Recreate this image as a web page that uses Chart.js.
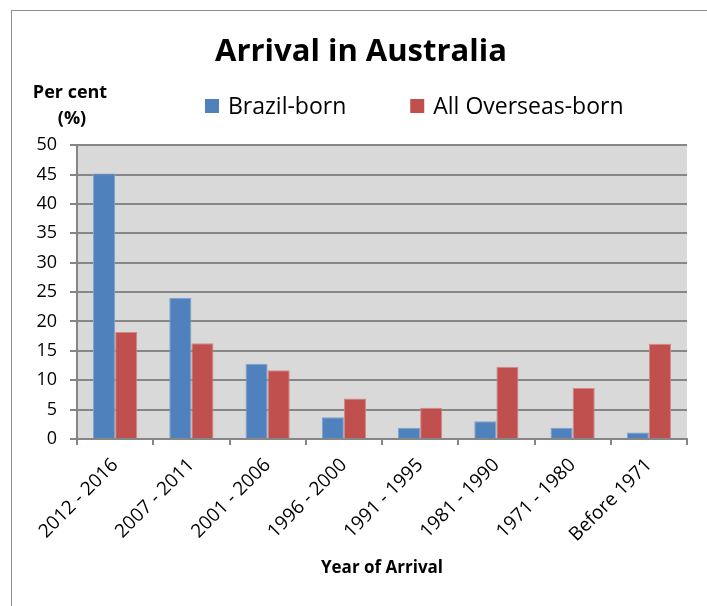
<!DOCTYPE html>
<html>
<head>
<meta charset="utf-8">
<script src="https://cdn.jsdelivr.net/npm/chart.js@4.4.1/dist/chart.umd.min.js"></script>
<style>
  body { margin: 0; background: #fff; }
  #wrap { position: relative; width: 707px; height: 606px; overflow: hidden; }
  #frame { position: absolute; left: 11px; top: 10px; width: 720px; height: 620px; border: 1px solid #8c8c8c; }
  canvas { position: absolute; left: 0; top: 0; }
</style>
</head>
<body>
<div id="wrap">
  <div id="frame"></div>
  <canvas id="chart" width="707" height="606"></canvas>
</div>
<script>
const periods = ['2012 - 2016', '2007 - 2011', '2001 - 2006', '1996 - 2000', '1991 - 1995', '1981 - 1990', '1971 - 1980', 'Before 1971'];
const brazilBorn = [45.2, 24.0, 12.8, 3.7, 1.9, 3.0, 1.9, 1.1];
const overseasBorn = [18.2, 16.3, 11.7, 6.9, 5.3, 12.3, 8.7, 16.2];
const yTicks = [0, 5, 10, 15, 20, 25, 30, 35, 40, 45, 50];

const FONT = "'Open Sans', sans-serif";
const grey = '#868686';

// grey plot background
const plotBg = {
    id: 'plotBg',
    beforeDraw(chart) {
        const a = chart.chartArea;
        chart.ctx.save();
        chart.ctx.fillStyle = '#d9d9d9';
        chart.ctx.fillRect(a.left, a.top, a.right - a.left, a.bottom - a.top);
        chart.ctx.restore();
    }
};

// "Per cent (%)" label and the legend row
const extraText = {
    id: 'extraText',
    afterDraw(chart) {
        const ctx = chart.ctx;
        ctx.save();
        ctx.fillStyle = '#000';
        ctx.font = 'bold 18px ' + FONT;
        ctx.textAlign = 'center';
        ctx.textBaseline = 'middle';
        ctx.fillText('Per cent', 70, 93);
        ctx.fillText('(%)', 72, 119);

        // legend
        ctx.font = '23px ' + FONT;
        ctx.textAlign = 'left';
        let x = 205;
        chart.data.datasets.forEach(ds => {
            ctx.fillStyle = ds.backgroundColor;
            ctx.fillRect(x, 99, 14, 14);
            ctx.fillStyle = '#000';
            ctx.fillText(ds.label, x + 23, 107);
            x += 23 + ctx.measureText(ds.label).width + 64;
        });
        ctx.restore();
    }
};

Chart.defaults.font.family = FONT;
Chart.defaults.color = '#000';

const ctx = document.getElementById('chart').getContext('2d');
new Chart(ctx, {
    type: 'bar',
    data: {
        labels: periods,
        datasets: [{
            label: 'Brazil-born',
            data: brazilBorn,
            backgroundColor: '#4f81bd',
            borderColor: '#7ea1cf',
            borderWidth: 1
        }, {
            label: 'All Overseas-born',
            data: overseasBorn,
            backgroundColor: '#c0504d',
            borderColor: '#d48886',
            borderWidth: 1
        }]
    },
    options: {
        responsive: false,
        animation: false,
        layout: { padding: { left: 35, right: 20, top: 0, bottom: 24 } },
        datasets: { bar: { barPercentage: 1, categoryPercentage: 0.58 } },
        plugins: {
            title: {
                display: true,
                text: 'Arrival in Australia',
                font: { size: 31, weight: 'bold' },
                padding: { top: 34, bottom: 74 }
            },
            legend: { display: false },
            tooltip: { enabled: false }
        },
        scales: {
            x: {
                afterFit(scale) { scale.height = 143; },
                grid: { offset: true, drawOnChartArea: false, tickLength: 6, color: grey, lineWidth: 2 },
                border: { color: grey, width: 2 },
                ticks: { font: { size: 19 }, minRotation: 45, maxRotation: 45, padding: 9 },
                title: { display: true, text: 'Year of Arrival', font: { size: 17, weight: 'bold' } }
            },
            y: {
                min: 0,
                max: 50,
                afterFit(scale) { scale.width = 42; },
                afterBuildTicks(scale) { scale.ticks = yTicks.map(v => ({ value: v })); },
                grid: { color: grey, lineWidth: 2, tickLength: 7 },
                border: { color: grey, width: 2 },
                ticks: { font: { size: 18 }, padding: 13 }
            }
        }
    },
    plugins: [plotBg, extraText]
});
</script>
</body>
</html>
